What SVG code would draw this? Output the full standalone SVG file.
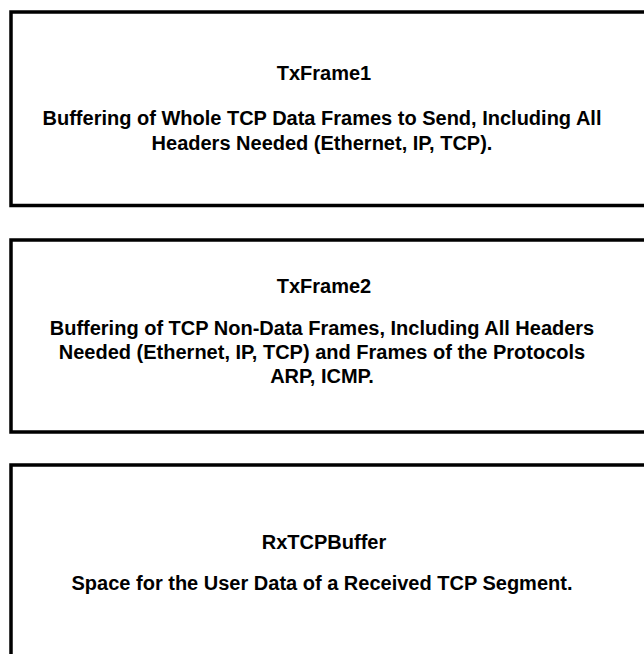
<svg xmlns="http://www.w3.org/2000/svg" width="644" height="654" viewBox="0 0 644 654">
<style>
.box{fill:#fff;stroke:#000;stroke-width:3.5}
.t{font-family:"Liberation Sans",Arial,sans-serif;font-weight:bold;font-size:20px;fill:#000;text-anchor:middle}
</style>
<rect width="644" height="654" fill="#fff"/>
<g id="txframe1">
<rect class="box" x="11" y="12" width="660" height="193.5"/>
<text class="t" x="324" y="80">TxFrame1</text>
<text class="t" x="322" y="125">Buffering of Whole TCP Data Frames to Send, Including All</text>
<text class="t" x="322" y="150">Headers Needed (Ethernet, IP, TCP).</text>
</g>
<g id="txframe2">
<rect class="box" x="11" y="240" width="660" height="192"/>
<text class="t" x="324" y="293">TxFrame2</text>
<text class="t" x="322" y="335">Buffering of TCP Non-Data Frames, Including All Headers</text>
<text class="t" x="322" y="359">Needed (Ethernet, IP, TCP) and Frames of the Protocols</text>
<text class="t" x="322" y="383">ARP, ICMP.</text>
</g>
<g id="rxtcpbuffer">
<rect class="box" x="11" y="465" width="660" height="220"/>
<text class="t" x="324" y="549">RxTCPBuffer</text>
<text class="t" x="322" y="590">Space for the User Data of a Received TCP Segment.</text>
</g>
<g id="connectors"/>
</svg>
